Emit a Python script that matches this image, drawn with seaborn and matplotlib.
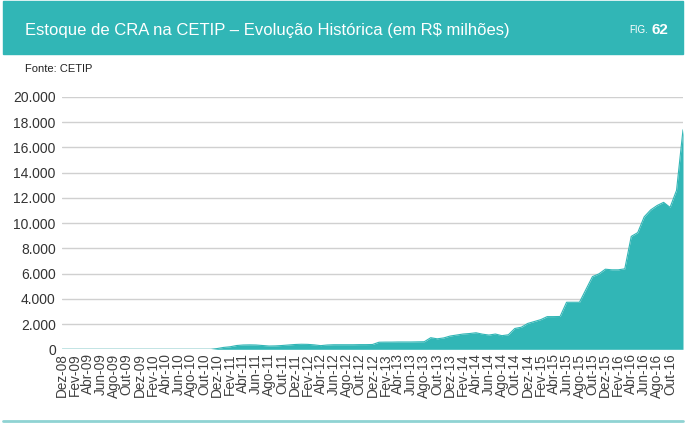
import matplotlib
matplotlib.use("Agg")
import matplotlib.pyplot as plt
import seaborn as sns
import numpy as np
import pandas as pd

# ---- data ----
months_pt = ["Jan", "Fev", "Mar", "Abr", "Mai", "Jun", "Jul", "Ago", "Set", "Out", "Nov", "Dez"]
# Monthly stock Dez-08 .. Dez-16 (R$ milhões)
stock = [
    0, 0, 0, 0, 0, 0, 0, 0, 0, 0, 0, 0,            # Dez-08 .. Nov-09
    0, 0, 0, 0, 0, 0, 0, 0, 0, 0, 0, 0,            # Dez-09 .. Nov-10
    60, 150, 200, 300, 340, 350, 340, 300, 260, 270, 300, 340,   # Dez-10 .. Nov-11
    380, 400, 390, 350, 290, 340, 360, 360, 360, 360, 370, 370,  # Dez-11 .. Nov-12
    380, 560, 570, 570, 580, 580, 580, 590, 600, 920, 830, 900,  # Dez-12 .. Nov-13
    1050, 1130, 1210, 1250, 1310, 1200, 1130, 1210, 1080, 1150, 1650, 1750,  # Dez-13 .. Nov-14
    2050, 2200, 2350, 2590, 2590, 2600, 3730, 3730, 3730, 4750, 5760, 5980,  # Dez-14 .. Nov-15
    6350, 6300, 6300, 6380, 8950, 9250, 10500, 11050, 11400, 11650, 11250, 12600,  # Dez-15 .. Nov-16
    17400,                                          # Dez-16
]
labels = []
m, y = 11, 8
for _ in stock:
    labels.append(f"{months_pt[m]}-{y:02d}")
    m += 1
    if m == 12:
        m, y = 0, y + 1
y_ticks = [0, 2000, 4000, 6000, 8000, 10000, 12000, 14000, 16000, 18000, 20000]

title = "Estoque de CRA na CETIP \u2013 Evolução Histórica (em R$ milhões)"
source = "Fonte: CETIP"

df = pd.DataFrame({"idx": np.arange(len(stock)), "stock": stock, "label": labels})

# ---- style ----
sns.set_theme(style="white")
plt.rcParams["font.family"] = ["Liberation Sans", "DejaVu Sans"]
teal = "#31b6b6"

fig = plt.figure(figsize=(6.87, 4.26), dpi=100)
ax = fig.add_axes([62 / 687, 1 - 349.3 / 426, (683 - 62) / 687, (349.3 - 97) / 426])

ax.fill_between(df["idx"], 0, df["stock"], color=teal, linewidth=0, zorder=3)
sns.lineplot(data=df, x="idx", y="stock", ax=ax, color=teal, linewidth=0.8, zorder=3)

ax.set_xlim(0, len(stock) - 1)
ax.set_ylim(0, 20000)
ax.set_yticks(y_ticks)
ax.set_yticklabels([f"{v:,}".replace(",", ".") for v in y_ticks], fontsize=10, color="#333333")
ax.yaxis.grid(True, color="#d0d0d0", linewidth=1.0, zorder=0)
ax.xaxis.grid(False)
xt = list(range(0, len(stock) - 2, 2))
ax.set_xticks(xt)
ax.set_xticklabels([labels[i] for i in xt], rotation=90, fontsize=9.8, color="#404040")
ax.tick_params(axis="both", length=0, pad=3)
ax.tick_params(axis="y", pad=4.5)
ax.set_xlabel("")
ax.set_ylabel("")
for s in ax.spines.values():
    s.set_visible(False)

# ---- header band ----
fig.patches.append(plt.Rectangle((3 / 687, 1 - 54 / 426), 680 / 687, 53 / 426,
                                 transform=fig.transFigure, color=teal, zorder=0))
fig.text(25 / 687, 1 - 30 / 426, title, color="white", fontsize=12, va="center", ha="left")
fig.text(648 / 687, 1 - 30 / 426, "FIG.", color="white", fontsize=7, va="center", ha="right")
fig.text(651 / 687, 1 - 30 / 426, "62", color="white", fontsize=11, fontweight="bold", va="center", ha="left")
fig.text(25 / 687, 1 - 69 / 426, source, color="#222222", fontsize=8, va="center", ha="left")

# bottom line
fig.lines.append(plt.Line2D([3 / 687, 683 / 687], [1 - 421 / 426, 1 - 421 / 426],
                            transform=fig.transFigure, color="#8fd3d3", linewidth=2))

fig.savefig("out.png", dpi=100)
